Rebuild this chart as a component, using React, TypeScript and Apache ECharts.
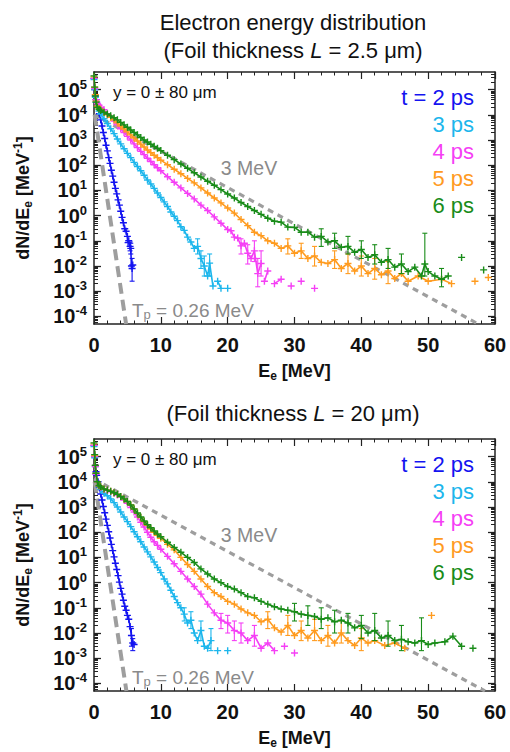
import React, { useEffect, useRef } from 'react';
import * as echarts from 'echarts';

type Pt = [number, number | null];
type Err = [number, number, number];

// ---------------- DATA: top panel (L = 2.5 um) ----------------
const top2ps: Pt[] = [[0,2.8e5],[0.1,1e5],[0.2,5.6e4],[0.3,4e4],[0.4,3.2e4],[0.6,2e4],[0.8,1.1e4],[1,6.3e3],[1.2,3.6e3],[1.4,2e3],[1.6,1.15e3],[1.8,620],[2,370],[2.2,200],[2.4,118],[2.6,63],[2.8,37],[3,21],[3.2,12],[3.4,7.3],[3.6,4.2],[3.8,2.6],[4,1.5],[4.2,0.85],[4.4,0.52],[4.6,0.3],[4.8,0.24],[5,0.15],[5.1,0.085],[5.2,0.1],[5.4,0.06],[5.5,0.05],[5.6,0.01],[5.7,0.008],[5.8,0.011]];
const top3ps: Pt[] = [[0,2.5e5],[0.1,1e5],[0.2,5e4],[0.3,3.2e4],[0.5,2e4],[0.75,1.4e4],[1,1.1e4],[1.5,7e3],[2,4.5e3],[2.5,2.8e3],[3,1.8e3],[3.5,1.1e3],[4,700],[4.5,450],[5,295],[5.5,200],[6,130],[6.5,89],[7,60],[7.5,40],[8,26],[8.5,18],[9,12],[9.5,7.9],[10,5.2],[10.5,3.5],[11,2.3],[11.5,1.4],[12,0.95],[12.5,0.63],[13,0.36],[13.5,0.26],[14,0.14],[14.5,0.09],[15,0.05],[15.5,0.06],[16,0.02],[16.5,0.01],[17,0.004],[17.3,0.013],[17.8,0.0016],[18.3,null],[18.5,0.0025],[19,0.0013],[19.5,null],[20,0.0013]];
const top4ps: Pt[] = [[0,2.8e5],[0.1,1.1e5],[0.2,6.3e4],[0.3,4e4],[0.5,2.8e4],[0.75,2.4e4],[1,2e4],[1.5,1.6e4],[2,1.1e4],[2.5,7.9e3],[3,5.6e3],[3.5,4e3],[4,2.8e3],[4.5,2e3],[5,1.4e3],[5.5,1e3],[6,700],[6.5,500],[7,355],[7.5,263],[8,190],[8.5,141],[9,105],[9.5,79],[10,60],[11,35],[12,21],[13,12.6],[14,7.6],[15,4.6],[16,2.6],[17,1.6],[18,0.89],[19,0.5],[20,0.28],[20.5,0.25],[21,0.14],[21.5,0.13],[22,0.063],[22.5,0.08],[23,0.032],[23.5,0.02],[24,0.04],[24.5,0.005],[25,0.0126],[25.3,null],[25.5,0.0025],[26,0.0063],[26.5,null],[27,0.002],[28,0.003],[28.5,null],[29.5,0.0016],[30,null],[31,0.0025],[32,null],[33,0.0013]];
const top5ps: Pt[] = [[0,3.2e5],[0.1,1.26e5],[0.2,6.3e4],[0.3,3.5e4],[0.5,2.2e4],[0.75,1.8e4],[1,1.6e4],[1.5,1.26e4],[2,1e4],[2.5,7.9e3],[3,6.3e3],[3.5,4.8e3],[4,3.6e3],[4.5,2.75e3],[5,2.1e3],[5.5,1.6e3],[6,1.2e3],[6.5,910],[7,690],[7.5,525],[8,400],[8.5,316],[9,250],[9.5,200],[10,158],[11,105],[12,69],[13,46],[14,30],[15,20],[16,12.6],[17,7.9],[18,5],[19,3.2],[20,2],[21,1.26],[22,0.7],[23,0.4],[24,0.22],[25,0.16],[26,0.1],[27,0.08],[28,0.05],[29,0.063],[30,0.032],[31,0.04],[32,0.02],[33,0.025],[34,0.014],[35,0.0126],[36,0.018],[37,0.008],[38,0.0126],[39,0.0063],[40,0.01],[41,0.005],[42,0.008],[43,0.0045],[44,0.0063],[45,0.0032],[46,0.005],[47,0.0025],[48.5,0.004],[50,0.0025],[52,0.003],[53.5,0.002],[55,null],[57,0.0025],[58,null],[59,0.0035]];
const top6ps: Pt[] = [[0,3.5e5],[0.1,1.26e5],[0.2,5.6e4],[0.3,3.2e4],[0.5,2e4],[0.75,1.66e4],[1,1.48e4],[1.5,1.26e4],[2,1.07e4],[2.5,9.1e3],[3,7.6e3],[3.5,6.3e3],[4,5e3],[4.5,4e3],[5,3.2e3],[5.5,2.5e3],[6,2e3],[6.5,1.6e3],[7,1.26e3],[7.5,1e3],[8,830],[8.5,680],[9,560],[9.5,470],[10,380],[11,250],[12,166],[13,112],[14,76],[15,50],[16,34],[17,23],[18,16],[19,10.7],[20,7.2],[21,5],[22,3.3],[23,2.3],[24,1.6],[25,1.12],[26,0.79],[27,0.6],[28,0.55],[29,0.35],[30,0.34],[31,0.22],[32,0.22],[33,0.14],[34,0.15],[35,0.09],[36,0.1],[37,0.055],[38,0.06],[39,0.035],[40,0.045],[41,0.022],[42,0.028],[43,0.014],[44,0.018],[45,0.009],[46,0.012],[47,0.006],[48,0.009],[49,0.004],[49.5,0.012],[50,0.006],[51,0.004],[52,0.003],[53,0.004],[54,null],[55,0.022],[56,null],[58.3,0.007]];

const topErr2ps: Err[] = [[5.7,0.0025,0.02],[5.5,0.03,0.08],[5.4,0.04,0.09]];
const topErr3ps: Err[] = [[15.5,0.03,0.12],[16,0.008,0.04],[16.5,0.004,0.025],[17.3,0.004,0.03]];
const topErr4ps: Err[] = [[22,0.03,0.12],[23,0.012,0.07],[24,0.015,0.1],[24.5,0.0015,0.02],[25,0.004,0.04]];
const topErr5ps: Err[] = [[29,0.03,0.12],[31,0.02,0.08],[33,0.01,0.06],[36,0.008,0.04],[38,0.005,0.03],[40,0.004,0.025],[42,0.003,0.02],[44,0.002,0.015]];
const topErr6ps: Err[] = [[34,0.06,0.3],[36,0.05,0.2],[38,0.03,0.15],[40,0.02,0.1],[42,0.012,0.07],[44,0.008,0.05],[46,0.005,0.03],[49.5,0.004,0.2],[52,0.0015,0.008]];

const top3MeV: Pt[] = [[0,1e4],[57.5,5e-5]];
const topTp: Pt[] = [[0.1,1e4],[4.8,5e-5]];

// ---------------- DATA: bottom panel (L = 20 um) ----------------
const bot2ps: Pt[] = [[0,2.8e5],[0.1,1e5],[0.2,4.5e4],[0.3,2.5e4],[0.4,1.8e4],[0.6,1e4],[0.8,6e3],[1,3.3e3],[1.2,1.9e3],[1.4,1.05e3],[1.6,590],[1.8,330],[2,186],[2.2,105],[2.4,59],[2.6,33],[2.8,18.6],[3,10.5],[3.2,5.9],[3.4,3.3],[3.6,1.9],[3.8,1.05],[4,0.59],[4.2,0.35],[4.4,0.2],[4.6,0.115],[4.8,0.08],[5,0.05],[5.2,0.035],[5.4,0.018],[5.6,0.008],[5.8,0.004],[6,0.0035]];
const bot3ps: Pt[] = [[0,2.5e5],[0.1,9e4],[0.2,4e4],[0.3,2e4],[0.5,1e4],[0.75,6.3e3],[1,5e3],[1.5,3.5e3],[2,2.8e3],[2.5,2.1e3],[3,1.5e3],[3.5,1e3],[4,630],[4.5,400],[5,263],[5.5,166],[6,105],[6.5,66],[7,42],[7.5,26],[8,16.6],[8.5,10.5],[9,6.6],[9.5,4],[10,2.5],[10.5,1.4],[11,0.89],[11.5,0.5],[12,0.28],[12.5,0.16],[13,0.1],[13.5,0.056],[14,0.025],[14.5,0.032],[15,0.01],[15.5,0.005],[16,0.0126],[16.5,0.003],[17,0.0025],[17.5,0.005],[18,null],[18.5,0.002],[19.5,null],[20,0.002]];
const bot4ps: Pt[] = [[0,2.8e5],[0.1,1e5],[0.2,4e4],[0.3,2e4],[0.5,1e4],[0.75,7e3],[1,6e3],[1.5,5e3],[2,4.5e3],[2.5,4e3],[3,3.5e3],[3.5,3e3],[4,2.5e3],[4.5,1.9e3],[5,1.4e3],[5.5,950],[6,630],[6.5,400],[7,250],[7.5,160],[8,100],[8.5,63],[9,42],[9.5,30],[10,21],[11,11],[12,5.6],[13,2.8],[14,1.4],[15,0.7],[16,0.35],[17,0.14],[18,0.063],[19,0.032],[20,0.025],[21,0.0126],[22,0.01],[23,0.005],[24,0.008],[25,0.0025],[26,0.004],[27,0.002],[28,null],[28.5,0.003],[29.5,null],[30,0.0016]];
const bot5ps: Pt[] = [[0,3.2e5],[0.1,1.1e5],[0.2,4.5e4],[0.3,2.2e4],[0.5,1e4],[0.75,7e3],[1,6.3e3],[1.5,5.2e3],[2,4.7e3],[2.5,4.2e3],[3,3.7e3],[3.5,3.2e3],[4,2.6e3],[4.5,2.1e3],[5,1.66e3],[5.5,1.2e3],[6,830],[6.5,560],[7,380],[7.5,263],[8,186],[8.5,135],[9,100],[9.5,76],[10,58],[11,33],[12,20],[13,10],[14,5.2],[15,2.8],[16,1.4],[17,0.7],[18,0.4],[19,0.28],[20,0.18],[21,0.14],[22,0.09],[23,0.063],[24,0.05],[25,0.028],[26,0.035],[27,0.016],[28,0.011],[29,0.02],[30,0.008],[31,0.0126],[32,0.0063],[33,0.0126],[34,0.005],[35,0.008],[36,0.004],[37,0.01],[38,0.005],[39,0.0032],[40,0.0063],[41,0.004],[42,0.005],[43.5,0.0032],[45,0.004],[46.5,0.0025],[48,null],[50.5,0.05]];
const bot6ps: Pt[] = [[0,3.5e5],[0.1,1.2e5],[0.2,4.5e4],[0.3,2.2e4],[0.5,1e4],[0.75,7e3],[1,6.3e3],[1.5,5.2e3],[2,4.7e3],[2.5,4.2e3],[3,3.7e3],[3.5,3.2e3],[4,2.6e3],[4.5,2.1e3],[5,1.66e3],[5.5,1.2e3],[6,830],[6.5,575],[7,400],[7.5,280],[8,200],[8.5,150],[9,112],[9.5,85],[10,66],[11,40],[12,25],[13,16],[14,10],[15,6.3],[16,3.5],[17,2.2],[18,1.4],[19,1],[20,0.7],[21,0.56],[22,0.4],[23,0.28],[24,0.25],[25,0.18],[26,0.14],[27,0.11],[28,0.09],[29,0.08],[30,0.07],[31,0.056],[32,0.05],[33,0.045],[34,0.035],[35,0.04],[36,0.028],[37,0.032],[38,0.025],[39,0.016],[40,0.02],[41,0.01],[42,0.0126],[43,0.0063],[44,0.008],[45,0.005],[46,0.0056],[47,0.0045],[48,0.004],[49,0.005],[50,0.0035],[51,0.004],[52.5,0.0045],[53.7,0.0075],[55,0.003],[56,null],[56.7,0.0025]];

const botErr2ps: Err[] = [[5.6,0.003,0.015],[5.8,0.002,0.006]];
const botErr3ps: Err[] = [[13.5,0.03,0.1],[14.5,0.015,0.07],[16,0.005,0.03],[17.5,0.002,0.015]];
const botErr4ps: Err[] = [[19,0.015,0.06],[20,0.01,0.05],[21,0.005,0.03],[22,0.004,0.025],[24,0.003,0.02]];
const botErr5ps: Err[] = [[26,0.015,0.07],[29,0.008,0.05],[31,0.005,0.03],[33,0.005,0.035],[35,0.003,0.02],[37,0.004,0.03],[40,0.002,0.015]];
const botErr6ps: Err[] = [[30,0.03,0.15],[32,0.02,0.12],[34,0.015,0.1],[36,0.01,0.08],[38,0.01,0.06],[40,0.006,0.05],[42,0.005,0.06],[44,0.003,0.03],[46,0.002,0.02],[49,0.002,0.04]];

const bot3MeV: Pt[] = [[0,1.3e4],[58.5,5e-5]];
const botTp: Pt[] = [[0.1,1e4],[4.85,5e-5]];

// ---------------- labels / ticks ----------------
const legendLabels = ['t = 2 ps', '3 ps', '4 ps', '5 ps', '6 ps'];
const seriesColors = ['#1414f0', '#1cb6ec', '#f53ff5', '#ff9b1f', '#198c19'];
const yMajorExponents = [-4, -3, -2, -1, 0, 1, 2, 3, 4, 5];
const panelTitles = ['(Foil thickness {i|L} = 2.5 μm)', '(Foil thickness {i|L} = 20 μm)'];
const mainTitle = 'Electron energy distribution';
const yRangeNote = 'y = 0 ± 80 μm';
const fitLabelHot = '3 MeV';
const fitLabelCold = 'T{p|p} = 0.26 MeV';

const FONT = '"Liberation Sans", Arial, Helvetica, sans-serif';
const GRAY = '#9e9e9e';
const TEXT_GRAY = '#8a8a8a';
const Y_MIN = 5e-5;
const Y_MAX = 5e5;
const PLUS = 'path://M4,0h2v4h4v2h-4v4h-2v-4h-4v-2h4z';

const majorVals = yMajorExponents.map((e) => Math.pow(10, e));
const minorVals: number[] = [];
for (let e = -5; e <= 5; e++) {
  for (let k = 2; k <= 9; k++) {
    const v = k * Math.pow(10, e);
    if (v > Y_MIN && v < Y_MAX) minorVals.push(v);
  }
}

const GRIDS = [
  { left: 94, top: 72, width: 401, height: 252 },
  { left: 94, top: 439, width: 401, height: 252 },
];

function toData(pts: Pt[]) {
  return pts.map((p) => [p[0], p[1] === null ? '-' : p[1]]);
}

function lineSeries(g: number, pts: Pt[], color: string, z: number) {
  return {
    type: 'line',
    xAxisIndex: g * 2,
    yAxisIndex: g * 4,
    data: toData(pts),
    symbol: PLUS,
    symbolSize: 7,
    showSymbol: true,
    connectNulls: false,
    lineStyle: { color, width: 1.6 },
    itemStyle: { color },
    silent: true,
    z,
  };
}

function errSeries(g: number, errs: Err[], color: string, z: number) {
  return {
    type: 'custom',
    xAxisIndex: g * 2,
    yAxisIndex: g * 4,
    data: errs,
    silent: true,
    z,
    renderItem: (params: any, api: any) => {
      const a = api.coord([api.value(0), api.value(1)]);
      const b = api.coord([api.value(0), api.value(2)]);
      const st = { stroke: color, lineWidth: 1.1 };
      return {
        type: 'group',
        children: [
          { type: 'line', shape: { x1: a[0], y1: a[1], x2: b[0], y2: b[1] }, style: st },
          { type: 'line', shape: { x1: a[0] - 2.5, y1: a[1], x2: a[0] + 2.5, y2: a[1] }, style: st },
          { type: 'line', shape: { x1: b[0] - 2.5, y1: b[1], x2: b[0] + 2.5, y2: b[1] }, style: st },
        ],
      };
    },
  };
}

function dashSeries(g: number, pts: Pt[], width: number, dash: number[]) {
  return {
    type: 'line',
    xAxisIndex: g * 2,
    yAxisIndex: g * 4,
    data: toData(pts),
    symbol: 'none',
    lineStyle: { color: GRAY, width, type: dash },
    silent: true,
    z: 1,
  };
}

const AXIS_COLOR = '#222';

function xAxes(g: number) {
  const common = {
    gridIndex: g,
    type: 'value',
    min: 0,
    max: 60,
    interval: 10,
    axisLine: { show: true, onZero: false, lineStyle: { color: AXIS_COLOR, width: 1.5 } },
    axisTick: { show: true, inside: true, length: 7, lineStyle: { color: AXIS_COLOR, width: 1.2 } },
    minorTick: { show: true, splitNumber: 5, length: 3.5, lineStyle: { color: AXIS_COLOR, width: 1 } },
    splitLine: { show: false },
    minorSplitLine: { show: false },
  };
  return [
    {
      ...common,
      position: 'bottom',
      axisLabel: { fontSize: 20, fontWeight: 'bold', color: '#111', fontFamily: FONT, margin: 11 },
      name: '{b|E}{sub|e}{b| [MeV]}',
      nameLocation: 'middle',
      nameGap: 36,
      nameTextStyle: {
        rich: {
          b: { fontSize: 18, fontWeight: 'bold', fontFamily: FONT, color: '#111', lineHeight: 22 },
          sub: { fontSize: 12, fontWeight: 'bold', fontFamily: FONT, color: '#111', lineHeight: 12, verticalAlign: 'bottom' },
        },
      },
    },
    { ...common, position: 'top', axisLabel: { show: false } },
  ];
}

function yLabelFormatter(v: number) {
  const e = Math.log10(v);
  const r = Math.round(e);
  if (Math.abs(e - r) > 1e-6) return '';
  return `{b|10}{s|${r}}`;
}

function yAxes(g: number) {
  const common = {
    gridIndex: g,
    type: 'log',
    logBase: 10,
    min: Y_MIN,
    max: Y_MAX,
    splitLine: { show: false },
    minorTick: { show: false },
    minorSplitLine: { show: false },
  };
  const majorTick = { show: true, inside: true, length: 7, customValues: majorVals, lineStyle: { color: AXIS_COLOR, width: 1.3 } };
  const minorTick = { show: true, inside: true, length: 4, customValues: minorVals, lineStyle: { color: AXIS_COLOR, width: 1 } };
  return [
    {
      ...common,
      position: 'left',
      axisLine: { show: true, lineStyle: { color: AXIS_COLOR, width: 1.5 } },
      axisTick: majorTick,
      axisLabel: {
        show: true,
        customValues: majorVals,
        formatter: yLabelFormatter,
        margin: 7,
        rich: {
          b: { fontSize: 20, fontWeight: 'bold', fontFamily: FONT, color: '#111', lineHeight: 24 },
          s: { fontSize: 13, fontWeight: 'bold', fontFamily: FONT, color: '#111', lineHeight: 13, verticalAlign: 'top' },
        },
      },
      name: '{b|dN/dE}{sub|e}{b| [MeV}{sup|-1}{b|]}',
      nameLocation: 'middle',
      nameRotate: 90,
      nameGap: 60,
      nameTextStyle: {
        rich: {
          b: { fontSize: 18, fontWeight: 'bold', fontFamily: FONT, color: '#111', lineHeight: 22 },
          sub: { fontSize: 12, fontWeight: 'bold', fontFamily: FONT, color: '#111', lineHeight: 12, verticalAlign: 'bottom' },
          sup: { fontSize: 12, fontWeight: 'bold', fontFamily: FONT, color: '#111', lineHeight: 12, verticalAlign: 'top' },
        },
      },
    },
    { ...common, position: 'left', axisLine: { show: false }, axisTick: minorTick, axisLabel: { show: false } },
    { ...common, position: 'right', axisLine: { show: true, lineStyle: { color: AXIS_COLOR, width: 1.5 } }, axisTick: majorTick, axisLabel: { show: false } },
    { ...common, position: 'right', axisLine: { show: false }, axisTick: minorTick, axisLabel: { show: false } },
  ];
}

function textEl(x: number, y: number, text: string, opts: any = {}) {
  return {
    type: 'text',
    x,
    y,
    silent: true,
    style: {
      text,
      fontFamily: FONT,
      fontSize: opts.fontSize || 17,
      fill: opts.fill || '#111',
      align: opts.align || 'left',
      verticalAlign: 'middle',
      rich: opts.rich,
      lineHeight: opts.lineHeight,
    },
  };
}

function panelGraphics(g: number) {
  const off = g === 0 ? 0 : 367;
  const els: any[] = [];
  els.push(textEl(293, (g === 0 ? 50 : 413), panelTitles[g], {
    fontSize: 22, align: 'center',
    rich: { i: { fontStyle: 'italic', fontSize: 22, fontFamily: FONT, fill: '#111' } },
  }));
  els.push(textEl(113, 92 + off, yRangeNote, { fontSize: 17 }));
  els.push(textEl(249, 168 + off, fitLabelHot, { fontSize: 19.5, fill: TEXT_GRAY, align: 'center' }));
  els.push(textEl(132, 310 + off, fitLabelCold, {
    fontSize: 19, fill: TEXT_GRAY, lineHeight: 22,
    rich: { p: { fontSize: 13, fontFamily: FONT, fill: TEXT_GRAY, lineHeight: 13, verticalAlign: 'bottom' } },
  }));
  const legendYs = [97, 124, 151, 178, 205];
  legendLabels.forEach((lab, i) => {
    els.push(textEl(474, legendYs[i] + off, lab, { fontSize: 22, fill: seriesColors[i], align: 'right' }));
  });
  return els;
}

export default function App() {
  const ref = useRef<HTMLDivElement>(null);
  useEffect(() => {
    if (!ref.current) return;
    const chart = echarts.init(ref.current, null, { renderer: 'svg' });
    const topSets = [top2ps, top3ps, top4ps, top5ps, top6ps];
    const botSets = [bot2ps, bot3ps, bot4ps, bot5ps, bot6ps];
    const topErrs = [topErr2ps, topErr3ps, topErr4ps, topErr5ps, topErr6ps];
    const botErrs = [botErr2ps, botErr3ps, botErr4ps, botErr5ps, botErr6ps];
    const series: any[] = [];
    [0, 1].forEach((g) => {
      series.push(dashSeries(g, g === 0 ? top3MeV : bot3MeV, 3.2, [6, 5]));
      series.push(dashSeries(g, g === 0 ? topTp : botTp, 4, [11, 6]));
      const sets = g === 0 ? topSets : botSets;
      const errs = g === 0 ? topErrs : botErrs;
      sets.forEach((s, i) => {
        series.push(errSeries(g, errs[i], seriesColors[i], 2 + i));
        series.push(lineSeries(g, s, seriesColors[i], 2 + i));
      });
    });
    chart.setOption({
      animation: false,
      backgroundColor: '#ffffff',
      grid: GRIDS.map((gr) => ({ ...gr, containLabel: false })),
      xAxis: [...xAxes(0), ...xAxes(1)],
      yAxis: [...yAxes(0), ...yAxes(1)],
      series,
      graphic: [
        textEl(293, 22, mainTitle, { fontSize: 22, align: 'center' }),
        ...panelGraphics(0),
        ...panelGraphics(1),
      ],
    });
    return () => chart.dispose();
  }, []);
  return <div ref={ref} style={{ position: 'fixed', left: 0, top: 0, width: 510, height: 752 }} />;
}
